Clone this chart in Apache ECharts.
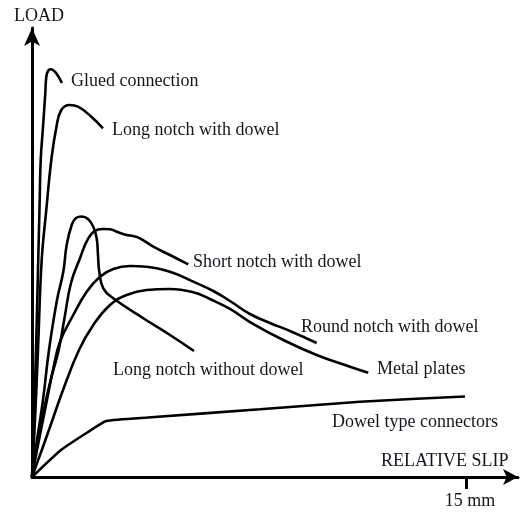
<!DOCTYPE html>
<html>
<head>
<meta charset="utf-8">
<script src="https://cdn.jsdelivr.net/npm/echarts@6/dist/echarts.min.js"></script>
<style>html,body{margin:0;padding:0;background:#fff}#c{width:520px;height:512px}</style>
</head>
<body>
<div id="c"></div>
<script>
// Relative slip in mm (x) and relative load (y)
var gluedX = [0, 0.069, 0.138, 0.207, 0.266, 0.301, 0.380, 0.460, 0.494, 0.553, 0.646, 0.726, 0.840, 1.037];
var gluedY = [0, 12.69, 28.29, 46.10, 61.69, 70.60, 77.95, 85.52, 89.09, 90.42, 90.80, 90.65, 89.91, 87.75];

var longDowelX = [0, 0.104, 0.207, 0.335, 0.494, 0.667, 0.840, 1.013, 1.303, 1.590, 2.050, 2.454];
var longDowelY = [0, 12.69, 28.29, 48.33, 59.47, 70.60, 77.80, 81.74, 82.85, 82.47, 80.24, 77.66];

var longNoDowelX = [0, 0.173, 0.380, 0.588, 0.864, 1.082, 1.199, 1.372, 1.521, 1.718, 1.936, 2.119, 2.236, 2.281, 2.326, 2.464, 2.810, 3.847, 4.770, 5.599];
var longNoDowelY = [0, 8.24, 17.15, 28.29, 39.42, 45.72, 51.67, 56.12, 57.68, 58.02, 57.46, 55.75, 53.16, 49.44, 45.72, 42.03, 39.80, 35.35, 31.63, 28.06];

var shortDowelX = [0, 0.207, 0.484, 0.691, 0.923, 1.130, 1.348, 1.659, 1.946, 2.236, 2.464, 2.696, 2.983, 3.273, 3.446, 3.733, 4.193, 4.770, 5.402];
var shortDowelY = [0, 8.24, 17.15, 22.72, 28.29, 35.63, 43.21, 48.71, 53.16, 55.01, 55.23, 55.17, 54.50, 53.90, 53.74, 53.16, 51.29, 49.44, 47.37];

var roundDowelX = [0, 0.207, 0.484, 0.726, 0.968, 1.427, 1.891, 2.350, 2.810, 3.387, 3.964, 4.770, 5.575, 6.267, 6.844, 7.535, 8.226, 8.918, 9.840];
var roundDowelY = [0, 7.13, 16.04, 23.83, 30.13, 36.08, 41.27, 44.61, 46.33, 46.99, 46.84, 45.72, 43.50, 41.43, 39.20, 36.30, 34.30, 32.52, 29.84];

var metalX = [0, 0.277, 0.622, 1.072, 1.625, 2.119, 2.696, 3.273, 3.964, 4.770, 5.575, 6.152, 6.844, 7.535, 8.686, 9.840, 10.991, 11.624];
var metalY = [0, 4.90, 11.14, 19.38, 28.29, 33.85, 38.31, 40.53, 41.65, 41.87, 41.14, 39.64, 37.42, 34.52, 30.51, 27.17, 24.57, 23.23];

var dowelTypeX = [0, 1.002, 1.936, 2.568, 4.009, 7.881, 11.337, 14.966];
var dowelTypeY = [0, 6.01, 10.02, 12.47, 13.25, 15.08, 16.77, 17.93];

var seriesNames = ['Glued connection', 'Long notch with dowel', 'Short notch with dowel', 'Round notch with dowel', 'Long notch without dowel', 'Metal plates', 'Dowel type connectors'];
var xTicks = [15];
var xTickLabels = ['15 mm'];
var axisNames = ['LOAD', 'RELATIVE SLIP'];

function pairs(xs, ys) { return xs.map(function (x, i) { return [x, ys[i]]; }); }

var curves = [
  pairs(gluedX, gluedY),
  pairs(longDowelX, longDowelY),
  pairs(shortDowelX, shortDowelY),
  pairs(roundDowelX, roundDowelY),
  pairs(longNoDowelX, longNoDowelY),
  pairs(metalX, metalY),
  pairs(dowelTypeX, dowelTypeY)
];

// label anchor positions (pixels), styling only
var labelPos = [[71, 81], [112, 130], [193, 262], [301, 327], [113, 370], [377, 369], [332, 422]];

var FONT = '"Liberation Serif", "Times New Roman", serif';
var TXT = '#151520';

var chart = echarts.init(document.getElementById('c'), null, {renderer: 'canvas'});

var graphics = seriesNames.map(function (n, i) {
  return {type: 'text', left: labelPos[i][0], top: labelPos[i][1] - 9,
    style: {text: n, font: '18px ' + FONT, fill: TXT}};
});
graphics.push({type: 'text', left: 14, top: 16 - 9, style: {text: axisNames[0], font: '18px ' + FONT, fill: TXT}});
graphics.push({type: 'text', left: 381, top: 461 - 9, style: {text: axisNames[1], font: '18px ' + FONT, fill: TXT}});

chart.setOption({
  animation: false,
  backgroundColor: '#fff',
  grid: {left: 32, top: 28, width: 486, height: 449},
  xAxis: {
    type: 'value', min: 0, max: 16.8,
    splitLine: {show: false},
    axisLine: {lineStyle: {color: '#000', width: 3}, symbol: ['none', 'arrow'], symbolSize: [12, 15]},
    axisTick: {show: true, customValues: xTicks, length: 12, inside: false, lineStyle: {color: '#000', width: 3}},
    axisLabel: {customValues: xTicks, formatter: function (v) { return xTickLabels[xTicks.indexOf(v)]; },
      fontFamily: FONT, fontSize: 18, color: TXT, margin: 15, padding: [0, 0, 0, 8]}
  },
  yAxis: {
    type: 'value', min: 0, max: 100,
    splitLine: {show: false},
    axisLine: {show: true, lineStyle: {color: '#000', width: 3}, symbol: ['none', 'arrow'], symbolSize: [12, 18]},
    axisTick: {show: false},
    axisLabel: {show: false}
  },
  series: curves.map(function (d, i) {
    return {name: seriesNames[i], type: 'line', data: d, showSymbol: false, smooth: i === 6 ? 0.15 : 0.45,
      lineStyle: {color: '#000', width: 2.6}, z: 3};
  }),
  graphic: graphics
});
</script>
</body>
</html>
